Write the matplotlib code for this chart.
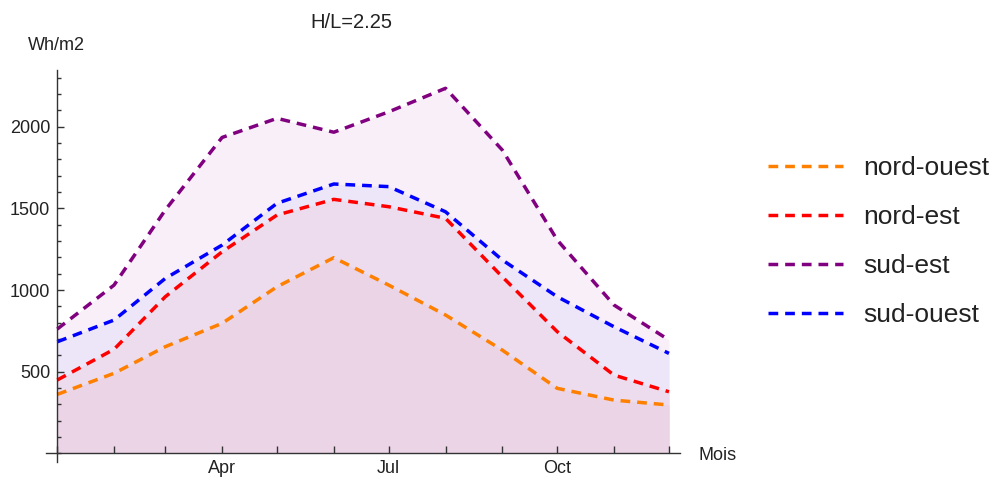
import matplotlib
matplotlib.use("Agg")
import matplotlib.pyplot as plt
import matplotlib.dates as mdates
from matplotlib.ticker import FixedLocator, MultipleLocator, NullFormatter
import pandas as pd

plt.rcParams['font.family'] = ['Liberation Sans', 'DejaVu Sans']
plt.rcParams['lines.scale_dashes'] = False

# ---- data ----
months = pd.date_range('2013-01-01', periods=12, freq='MS')
series_names = ['nord-ouest', 'nord-est', 'sud-est', 'sud-ouest']
nord_ouest = [361, 490, 653, 796, 1020, 1198, 1030, 847, 632, 398, 326, 296]
nord_est = [449, 637, 959, 1234, 1459, 1555, 1510, 1439, 1081, 745, 479, 377]
sud_est = [761, 1030, 1490, 1934, 2051, 1966, 2091, 2235, 1857, 1306, 908, 694]
sud_ouest = [683, 816, 1071, 1275, 1531, 1649, 1633, 1479, 1184, 959, 775, 612]
title = 'H/L=2.25'
ylabel = 'Wh/m2'
xlabel = 'Mois'
ytick_major = [500, 1000, 1500, 2000]

values = {'nord-ouest': nord_ouest, 'nord-est': nord_est,
          'sud-est': sud_est, 'sud-ouest': sud_ouest}
line_colors = {'nord-ouest': '#FF8000', 'nord-est': '#FF0000',
               'sud-est': '#800080', 'sud-ouest': '#0000FF'}
fill_colors = {'sud-est': '#F9EFF8', 'sud-ouest': '#ECE6F8',
               'nord-est': '#ECDCEE', 'nord-ouest': '#EAD4E6'}

fig = plt.figure(figsize=(9.97, 4.79), dpi=100)
ax = fig.add_axes([0.0464, 0.0365, 0.6356, 0.8184])

# fills (drawn from highest to lowest)
for name in ['sud-est', 'sud-ouest', 'nord-est', 'nord-ouest']:
    ax.fill_between(months, 0, values[name], color=fill_colors[name],
                    linewidth=0, zorder=1)

handles = []
for name in series_names:
    ln, = ax.plot(months, values[name], color=line_colors[name], lw=2.5,
                  dashes=(7.0, 5.0), solid_capstyle='butt',
                  dash_capstyle='butt', label=name, zorder=3)
    handles.append(ln)

x0 = mdates.date2num(months[0])
x1 = mdates.date2num(months[-1])
ax.set_xlim(x0 - 6, x1 + 6)
ax.set_ylim(-50, 2350)

for s in ['top', 'right']:
    ax.spines[s].set_visible(False)
ax.spines['left'].set_position(('data', x0))
ax.spines['bottom'].set_position(('data', 0))
for s in ['left', 'bottom']:
    ax.spines[s].set_color('#333333')
    ax.spines[s].set_linewidth(1.0)
    ax.spines[s].set_zorder(4)

ax.xaxis.set_major_locator(mdates.MonthLocator(bymonth=[4, 7, 10]))
ax.xaxis.set_major_formatter(mdates.DateFormatter('%b'))
ax.xaxis.set_minor_locator(mdates.MonthLocator())
ax.xaxis.set_minor_formatter(NullFormatter())
ax.yaxis.set_major_locator(FixedLocator(ytick_major))
ax.yaxis.set_minor_locator(MultipleLocator(100))

ax.tick_params(axis='x', which='both', direction='in', length=5, width=1,
               color='#333333', pad=5, labelsize=13, labelcolor='#222222')
ax.tick_params(axis='y', which='major', direction='in', length=5, width=1,
               color='#333333', pad=5, labelsize=13, labelcolor='#222222')
ax.tick_params(axis='y', which='minor', direction='in', length=3, width=1,
               color='#333333')

fig.text(351 / 997, 1 - 23 / 479, title, ha='center', va='center',
         fontsize=14.5, color='#222222')
fig.text(28 / 997, 1 - 45 / 479, ylabel, ha='left', va='center',
         fontsize=13, color='#222222')
fig.text(698 / 997, 1 - 455 / 479, xlabel, ha='left', va='center',
         fontsize=13, color='#222222')

fig.legend(handles=handles, labels=series_names, loc='center left',
           bbox_to_anchor=(768 / 997, 1 - 241.5 / 479), frameon=False,
           fontsize=19, handlelength=2.85, handletextpad=0.75,
           labelspacing=0.95, borderpad=0, borderaxespad=0,
           labelcolor='#222222')

fig.savefig('out.png', dpi=100)
